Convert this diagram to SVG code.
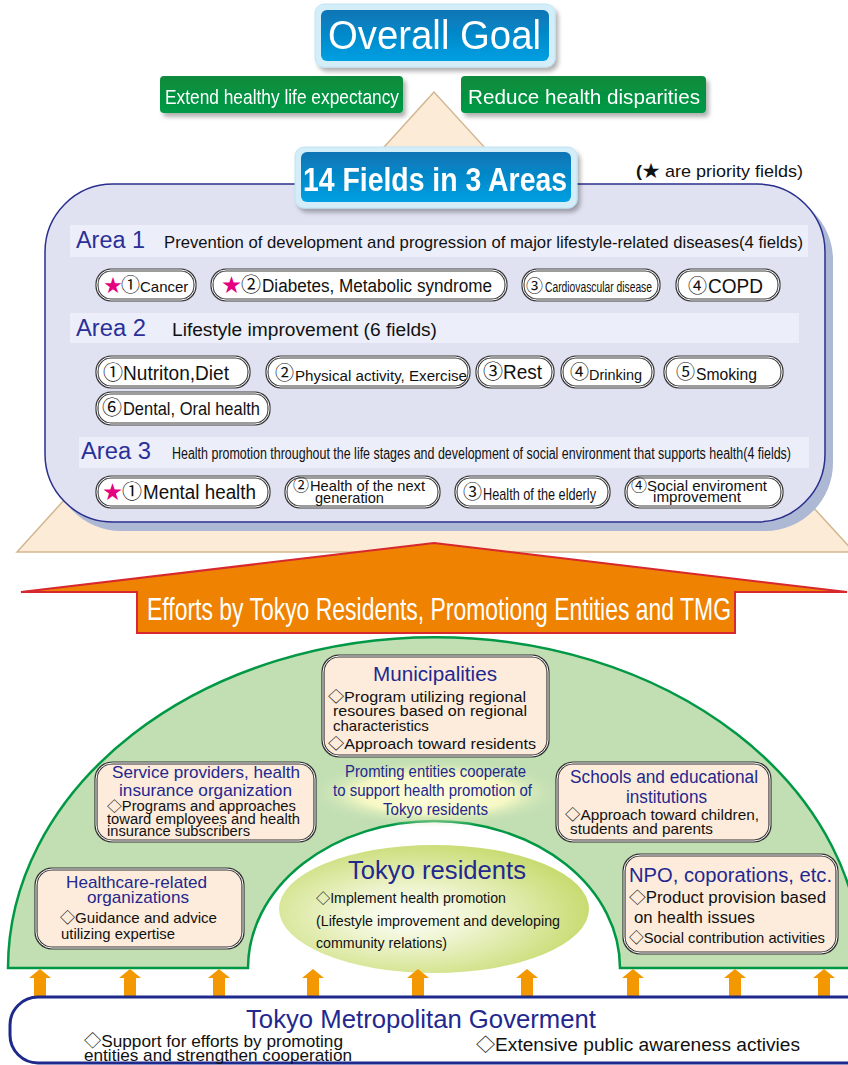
<svg xmlns="http://www.w3.org/2000/svg" width="848" height="1065" viewBox="0 0 848 1065">
<style>
text{font-family:"Liberation Sans","Noto Sans CJK JP",sans-serif;}
.w{fill:#fff}
.k{fill:#111}
.n{fill:#23288f}
.a{fill:#2b3099}
.pk{fill:#e5007f}
.po{fill:#fff;stroke:#3a3a3a;stroke-width:3.2}
.pi{fill:none;stroke:#fff;stroke-width:1}
.bo{fill:#fdecdc;stroke:#333;stroke-width:3.2}
.bi{fill:none;stroke:#fff;stroke-width:1}
.band{fill:#eceef9}
.ua{fill:#f39800}
</style>
<defs>
<linearGradient id="gBlue" x1="0" y1="0" x2="0" y2="1"><stop offset="0" stop-color="#0a74b4"/><stop offset="1" stop-color="#00a0e2"/></linearGradient>
<linearGradient id="gGreen" x1="0" y1="0" x2="0" y2="1"><stop offset="0" stop-color="#0b8a3c"/><stop offset="1" stop-color="#009a45"/></linearGradient>
<radialGradient id="gRes" cx="0.42" cy="0.55" r="0.62"><stop offset="0" stop-color="#ffffff"/><stop offset="0.35" stop-color="#eef4cf"/><stop offset="1" stop-color="#c4d968"/></radialGradient>
<radialGradient id="gGlow" cx="0.5" cy="0.5" r="0.5"><stop offset="0" stop-color="#ffffe2"/><stop offset="0.6" stop-color="#f6f8c4"/><stop offset="1" stop-color="#c2dfb3" stop-opacity="0"/></radialGradient>
<filter id="sh" x="-10%" y="-20%" width="130%" height="160%"><feGaussianBlur in="SourceAlpha" stdDeviation="2"/><feOffset dx="3" dy="4" result="b"/><feFlood flood-color="#000" flood-opacity="0.3"/><feComposite in2="b" operator="in"/><feMerge><feMergeNode/><feMergeNode in="SourceGraphic"/></feMerge></filter>
<path id="upA" d="M0 0 L11 9 L6 9 L6 27 L-6 27 L-6 9 L-11 9 Z"/>
</defs>

<!-- background shapes -->
<polygon id="pyramid" points="434,92 17,552 854,552" fill="#fcebd6" stroke="#d2b690" stroke-width="1.5"/>

<g id="overall-goal" filter="url(#sh)">
<rect x="315" y="4" width="240" height="63" rx="9" fill="#d3edf9" stroke="#c0e4f5"/>
<rect x="321" y="10" width="228" height="51" rx="6" fill="url(#gBlue)"/>
<text x="328" y="49" font-size="41" class="w" textLength="213" lengthAdjust="spacingAndGlyphs">Overall Goal</text>
</g>

<g id="goal-extend" filter="url(#sh)">
<rect x="160" y="76" width="243" height="37" rx="4" fill="url(#gGreen)"/>
<text x="165" y="104" font-size="21" class="w" textLength="234" lengthAdjust="spacingAndGlyphs">Extend healthy life expectancy</text>
</g>
<g id="goal-reduce" filter="url(#sh)">
<rect x="461" y="76" width="245" height="37" rx="4" fill="url(#gGreen)"/>
<text x="468" y="104" font-size="21" class="w" textLength="232" lengthAdjust="spacingAndGlyphs">Reduce health disparities</text>
</g>

<g id="fields-panel">
<rect x="53" y="192" width="780" height="339" rx="68" fill="#acb8d4"/>
<rect x="45" y="184" width="780" height="338" rx="68" fill="#e0e2f2" stroke="#2a2f8c" stroke-width="1.5"/>
<rect class="band" x="70" y="225" width="738" height="32"/>
<rect class="band" x="70" y="313" width="729" height="30"/>
<rect class="band" x="79" y="437" width="730" height="31"/>
<text x="76" y="248" font-size="23" class="a" textLength="69" lengthAdjust="spacingAndGlyphs">Area 1</text>
<text x="164" y="248" font-size="17" class="k" textLength="639" lengthAdjust="spacingAndGlyphs">Prevention of development and progression of major lifestyle-related diseases(4 fields)</text>
<text x="76" y="336" font-size="23" class="a" textLength="70" lengthAdjust="spacingAndGlyphs">Area 2</text>
<text x="172" y="336" font-size="18" class="k" textLength="265" lengthAdjust="spacingAndGlyphs">Lifestyle improvement (6 fields)</text>
<text x="81" y="459" font-size="23" class="a" textLength="70" lengthAdjust="spacingAndGlyphs">Area 3</text>
<text x="172" y="459" font-size="16" class="k" textLength="619" lengthAdjust="spacingAndGlyphs">Health promotion throughout the life stages and development of social environment that supports health(4 fields)</text>
</g>

<g id="fields-title" filter="url(#sh)">
<rect x="295" y="147" width="282" height="61" rx="9" fill="#d3edf9" stroke="#c0e4f5"/>
<rect x="301" y="152" width="270" height="50" rx="6" fill="url(#gBlue)"/>
<text x="303" y="191" font-size="33" font-weight="bold" class="w" textLength="264" lengthAdjust="spacingAndGlyphs">14 Fields in 3 Areas</text>
</g>
<text id="priority-note" x="636" y="177" font-size="17" class="k" textLength="167" lengthAdjust="spacingAndGlyphs"><tspan font-weight="bold">(</tspan>★ are priority fields)</text>

<!-- Area 1 fields -->
<g id="f1-cancer"><rect class="po" x="97" y="270" width="98" height="30" rx="14"/><rect class="pi" x="97" y="270" width="98" height="30" rx="14"/>
<text y="292"><tspan x="104" font-size="18" class="pk">★</tspan><tspan x="121" font-size="19" class="k">①</tspan><tspan x="140" font-size="15" class="k">Cancer</tspan></text></g>
<g id="f1-diabetes"><rect class="po" x="212" y="270" width="294" height="30" rx="14"/><rect class="pi" x="212" y="270" width="294" height="30" rx="14"/>
<text y="292"><tspan x="222" font-size="19" class="pk">★</tspan><tspan x="241" font-size="20" class="k">②</tspan></text>
<text x="262" y="292" font-size="18" class="k" textLength="230" lengthAdjust="spacingAndGlyphs">Diabetes, Metabolic syndrome</text></g>
<g id="f1-cardio"><rect class="po" x="523" y="270" width="136" height="30" rx="14"/><rect class="pi" x="523" y="270" width="136" height="30" rx="14"/>
<text x="526" y="292" font-size="17" class="k">③</text>
<text x="545" y="292" font-size="14" class="k" textLength="107" lengthAdjust="spacingAndGlyphs">Cardiovascular disease</text></g>
<g id="f1-copd"><rect class="po" x="677" y="270" width="102" height="30" rx="14"/><rect class="pi" x="677" y="270" width="102" height="30" rx="14"/>
<text x="688" y="293" font-size="19" class="k">④</text>
<text x="708" y="293" font-size="20" class="k" textLength="55" lengthAdjust="spacingAndGlyphs">COPD</text></g>

<!-- Area 2 fields -->
<g id="f2-nutrition"><rect class="po" x="97" y="357" width="152" height="30" rx="14"/><rect class="pi" x="97" y="357" width="152" height="30" rx="14"/>
<text x="103" y="380" font-size="20" class="k">①</text>
<text x="123" y="380" font-size="20" class="k" textLength="106" lengthAdjust="spacingAndGlyphs">Nutriton,Diet</text></g>
<g id="f2-physical"><rect class="po" x="267" y="357" width="202" height="30" rx="14"/><rect class="pi" x="267" y="357" width="202" height="30" rx="14"/>
<text x="275" y="380" font-size="19" class="k">②</text>
<text x="295" y="381" font-size="14" class="k" textLength="172" lengthAdjust="spacingAndGlyphs">Physical activity, Exercise</text></g>
<g id="f2-rest"><rect class="po" x="477" y="357" width="76" height="30" rx="14"/><rect class="pi" x="477" y="357" width="76" height="30" rx="14"/>
<text x="483" y="379" font-size="20" class="k">③</text>
<text x="503" y="379" font-size="20" class="k" textLength="39" lengthAdjust="spacingAndGlyphs">Rest</text></g>
<g id="f2-drinking"><rect class="po" x="562" y="357" width="91" height="30" rx="14"/><rect class="pi" x="562" y="357" width="91" height="30" rx="14"/>
<text x="570" y="379" font-size="19" class="k">④</text>
<text x="589" y="380" font-size="14" class="k" textLength="53" lengthAdjust="spacingAndGlyphs">Drinking</text></g>
<g id="f2-smoking"><rect class="po" x="665" y="357" width="117" height="30" rx="14"/><rect class="pi" x="665" y="357" width="117" height="30" rx="14"/>
<text x="676" y="379" font-size="19" class="k">⑤</text>
<text x="696" y="380" font-size="16" class="k" textLength="61" lengthAdjust="spacingAndGlyphs">Smoking</text></g>
<g id="f2-dental"><rect class="po" x="97" y="393" width="172" height="31" rx="14"/><rect class="pi" x="97" y="393" width="172" height="31" rx="14"/>
<text x="102" y="415" font-size="20" class="k">⑥</text>
<text x="123" y="415" font-size="19" class="k" textLength="137" lengthAdjust="spacingAndGlyphs">Dental, Oral health</text></g>

<!-- Area 3 fields -->
<g id="f3-mental"><rect class="po" x="97" y="477" width="172" height="30" rx="14"/><rect class="pi" x="97" y="477" width="172" height="30" rx="14"/>
<text y="499"><tspan x="103" font-size="19" class="pk">★</tspan><tspan x="122" font-size="20" class="k">①</tspan></text>
<text x="143" y="499" font-size="20" class="k" textLength="113" lengthAdjust="spacingAndGlyphs">Mental health</text></g>
<g id="f3-nextgen"><rect class="po" x="286" y="477" width="153" height="30" rx="14"/><rect class="pi" x="286" y="477" width="153" height="30" rx="14"/>
<text x="293" y="491" font-size="16" class="k">②</text>
<text x="310" y="491" font-size="15" class="k" textLength="115" lengthAdjust="spacingAndGlyphs">Health of the next</text>
<text x="315" y="503" font-size="15" class="k" textLength="69" lengthAdjust="spacingAndGlyphs">generation</text></g>
<g id="f3-elderly"><rect class="po" x="456" y="477" width="153" height="30" rx="14"/><rect class="pi" x="456" y="477" width="153" height="30" rx="14"/>
<text x="463" y="499" font-size="19" class="k">③</text>
<text x="483" y="500" font-size="17" class="k" textLength="113" lengthAdjust="spacingAndGlyphs">Health of the elderly</text></g>
<g id="f3-social"><rect class="po" x="626" y="477" width="156" height="30" rx="14"/><rect class="pi" x="626" y="477" width="156" height="30" rx="14"/>
<text x="631" y="491" font-size="16" class="k">④</text>
<text x="647" y="491" font-size="15" class="k" textLength="120" lengthAdjust="spacingAndGlyphs">Social enviroment</text>
<text x="653" y="502" font-size="15" class="k" textLength="88" lengthAdjust="spacingAndGlyphs">improvement</text></g>

<!-- big orange arrow -->
<g id="efforts-arrow">
<polygon points="434,543 847,592 735,592 735,633 137,633 137,592 21,592" fill="#ef8200" stroke="#d7282f" stroke-width="2"/>
<text x="147" y="620" font-size="32" class="w" textLength="584" lengthAdjust="spacingAndGlyphs">Efforts by Tokyo Residents, Promotiong Entities and TMG</text>
</g>

<!-- green arch -->
<path id="entities-arch" d="M 8 968 A 427 331 0 0 1 862 968 L 620 968 A 186 147 0 0 0 248 968 Z" fill="#c2dfb3" stroke="#009844" stroke-width="2.5"/>

<g id="cooperation">
<ellipse cx="435" cy="793" rx="128" ry="34" fill="url(#gGlow)"/>
<text x="345" y="777" font-size="16" class="n" textLength="181" lengthAdjust="spacingAndGlyphs">Promting entities cooperate</text>
<text x="333" y="796" font-size="16" class="n" textLength="199" lengthAdjust="spacingAndGlyphs">to support health promotion of</text>
<text x="383" y="815" font-size="16" class="n" textLength="105" lengthAdjust="spacingAndGlyphs">Tokyo residents</text>
</g>

<g id="municipalities"><rect class="bo" x="323" y="656" width="225" height="100" rx="16"/><rect class="bi" x="323" y="656" width="225" height="100" rx="16"/>
<text x="373" y="681" font-size="20" class="n" textLength="124" lengthAdjust="spacingAndGlyphs">Municipalities</text>
<text x="328" y="702" font-size="15" class="k" textLength="198" lengthAdjust="spacingAndGlyphs">◇Program utilizing regional</text>
<text x="333" y="716" font-size="15" class="k" textLength="194" lengthAdjust="spacingAndGlyphs">resoures based on regional</text>
<text x="333" y="731" font-size="15" class="k">characteristics</text>
<text x="328" y="749" font-size="15" class="k" textLength="208" lengthAdjust="spacingAndGlyphs">◇Approach toward residents</text></g>

<g id="service-providers"><rect class="bo" x="96" y="763" width="219" height="78" rx="16"/><rect class="bi" x="96" y="763" width="219" height="78" rx="16"/>
<text x="112" y="778" font-size="17" class="n" textLength="188" lengthAdjust="spacingAndGlyphs">Service providers, health</text>
<text x="119" y="796" font-size="17" class="n" textLength="173" lengthAdjust="spacingAndGlyphs">insurance organization</text>
<text x="107" y="811" font-size="14" class="k" textLength="189" lengthAdjust="spacingAndGlyphs">◇Programs and approaches</text>
<text x="107" y="824" font-size="14" class="k" textLength="193" lengthAdjust="spacingAndGlyphs">toward employees and health</text>
<text x="107" y="836" font-size="14" class="k" textLength="143" lengthAdjust="spacingAndGlyphs">insurance subscribers</text></g>

<g id="schools"><rect class="bo" x="557" y="763" width="213" height="78" rx="16"/><rect class="bi" x="557" y="763" width="213" height="78" rx="16"/>
<text x="570" y="783" font-size="18" class="n" textLength="188" lengthAdjust="spacingAndGlyphs">Schools and educational</text>
<text x="626" y="803" font-size="18" class="n" textLength="81" lengthAdjust="spacingAndGlyphs">institutions</text>
<text x="565" y="820" font-size="15" class="k" textLength="194" lengthAdjust="spacingAndGlyphs">◇Approach toward children,</text>
<text x="570" y="834" font-size="15" class="k" textLength="143" lengthAdjust="spacingAndGlyphs">students and parents</text></g>

<g id="healthcare"><rect class="bo" x="36" y="869" width="207" height="79" rx="16"/><rect class="bi" x="36" y="869" width="207" height="79" rx="16"/>
<text x="66" y="888" font-size="17" class="n" textLength="141" lengthAdjust="spacingAndGlyphs">Healthcare-related</text>
<text x="87" y="903" font-size="17" class="n" textLength="102" lengthAdjust="spacingAndGlyphs">organizations</text>
<text x="60" y="923" font-size="15" class="k" textLength="157" lengthAdjust="spacingAndGlyphs">◇Guidance and advice</text>
<text x="61" y="939" font-size="15" class="k" textLength="114" lengthAdjust="spacingAndGlyphs">utilizing expertise</text></g>

<g id="npo"><rect class="bo" x="624" y="855" width="213" height="98" rx="16"/><rect class="bi" x="624" y="855" width="213" height="98" rx="16"/>
<text x="629" y="882" font-size="20" class="n" textLength="203" lengthAdjust="spacingAndGlyphs">NPO, coporations, etc.</text>
<text x="629" y="903" font-size="16" class="k" textLength="197" lengthAdjust="spacingAndGlyphs">◇Product provision based</text>
<text x="634" y="923" font-size="16" class="k" textLength="121" lengthAdjust="spacingAndGlyphs">on health issues</text>
<text x="629" y="943" font-size="15" class="k" textLength="196" lengthAdjust="spacingAndGlyphs">◇Social contribution activities</text></g>

<g id="tokyo-residents">
<ellipse cx="434" cy="909" rx="155" ry="64" fill="url(#gRes)"/>
<text x="348" y="879" font-size="26" class="n" textLength="178" lengthAdjust="spacingAndGlyphs">Tokyo residents</text>
<text x="316" y="903" font-size="14" class="k" textLength="190" lengthAdjust="spacingAndGlyphs">◇Implement health promotion</text>
<text x="316" y="926" font-size="14" class="k" textLength="244" lengthAdjust="spacingAndGlyphs">(Lifestyle improvement and developing</text>
<text x="316" y="948" font-size="14" class="k" textLength="131" lengthAdjust="spacingAndGlyphs">community relations)</text>
</g>

<g id="connectors">
<use href="#upA" class="ua" x="40" y="969"/>
<use href="#upA" class="ua" x="130" y="969"/>
<use href="#upA" class="ua" x="219" y="969"/>
<use href="#upA" class="ua" x="313" y="969"/>
<use href="#upA" class="ua" x="418" y="969"/>
<use href="#upA" class="ua" x="527" y="969"/>
<use href="#upA" class="ua" x="633" y="969"/>
<use href="#upA" class="ua" x="735" y="969"/>
<use href="#upA" class="ua" x="824" y="969"/>
</g>

<g id="tmg">
<rect x="10" y="997" width="880" height="66" rx="28" fill="#fff" stroke="#1d2a8c" stroke-width="3"/>
<text x="246" y="1028" font-size="26" class="n" textLength="350" lengthAdjust="spacingAndGlyphs">Tokyo Metropolitan Goverment</text>
<text x="84" y="1047" font-size="17" class="k" textLength="259" lengthAdjust="spacingAndGlyphs">◇Support for efforts by promoting</text>
<text x="84" y="1061" font-size="17" class="k" textLength="268" lengthAdjust="spacingAndGlyphs">entities and strengthen cooperation</text>
<text x="476" y="1051" font-size="18" class="k" textLength="324" lengthAdjust="spacingAndGlyphs">◇Extensive public awareness activies</text>
</g>
</svg>
